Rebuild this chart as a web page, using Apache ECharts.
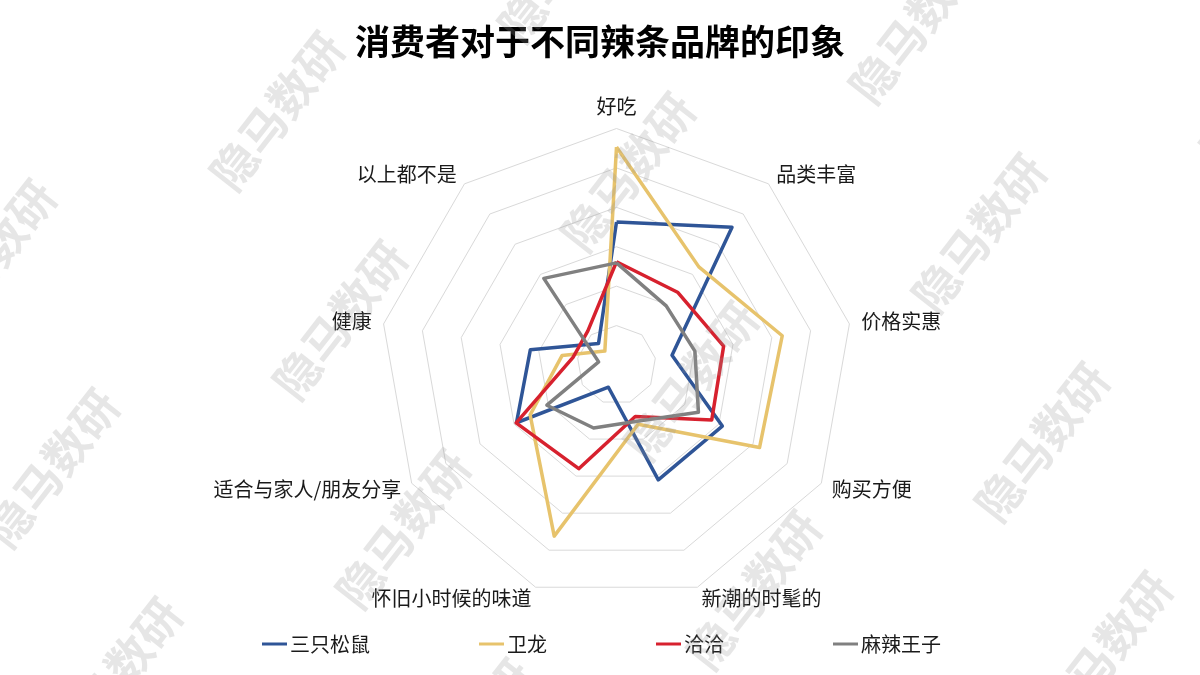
<!DOCTYPE html>
<html>
<head>
<meta charset="utf-8">
<script src="https://cdn.jsdelivr.net/npm/echarts@6/dist/echarts.min.js"></script>
<style>
html,body{margin:0;padding:0;background:#fff;}
#main{width:1200px;height:675px;}
</style>
</head>
<body>
<div id="main"></div>
<script>
// Indicators, clockwise from the top
var categories = ['好吃', '品类丰富', '价格实惠', '购买方便', '新潮的时髦的', '怀旧小时候的味道', '适合与家人/朋友分享', '健康', '以上都不是'];
var brands = ['三只松鼠', '卫龙', '洽洽', '麻辣王子'];
var songshu = [36.3, 45.6, 14.3, 31.0, 31.0, 6.0, 29.3, 22.2, 7.1];
var weilong = [55.3, 32.5, 42.7, 41.9, 16.0, 46.2, 25.3, 14.0, 4.6];
var qiaqia = [26.2, 24.1, 27.6, 27.9, 13.9, 28.0, 29.4, 11.2, 11.3];
var malawangzi = [25.9, 19.6, 20.2, 24.0, 15.2, 17.0, 20.4, 4.6, 28.7];
var axisMax = 60;

var colors = ['#2F5597', '#E7C36C', '#D7212E', '#808080'];
var FONT = '"Noto Sans CJK SC", "Microsoft YaHei", sans-serif';

// ECharts places radar indicators counter-clockwise; reorder to get clockwise layout
var order = [0];
for (var k = categories.length - 1; k >= 1; k--) order.push(k);
function reorder(arr) { return order.map(function (i) { return arr[i]; }); }

var seriesData = [songshu, weilong, qiaqia, malawangzi];

// watermark lattice
var wm = [];
var base = [277, 111], va = [351, 61], vb = [63, 209];
for (var i = -3; i <= 4; i++) {
  for (var j = -2; j <= 4; j++) {
    var cx = base[0] + i * va[0] + j * vb[0];
    var cy = base[1] + i * va[1] + j * vb[1];
    if (cx < -150 || cx > 1350 || cy < -100 || cy > 790) continue;
    wm.push({
      type: 'text', x: cx, y: cy, rotation: 52 * Math.PI / 180, z: 100, silent: true,
      style: {
        text: '隐马数研', fontSize: 46, fontWeight: 'bold', fontFamily: FONT,
        fill: 'rgba(150,150,150,0.24)', align: 'center', verticalAlign: 'middle'
      }
    });
  }
}

var chart = echarts.init(document.getElementById('main'));
chart.setOption({
  backgroundColor: '#fff',
  animation: false,
  title: {
    text: '消费者对于不同辣条品牌的印象',
    left: 'center', top: 19,
    textStyle: { fontSize: 35, fontWeight: 'bold', color: '#000', fontFamily: FONT }
  },
  legend: {
    data: brands,
    left: 257, top: 629,
    itemGap: 109, itemWidth: 25, itemHeight: 3, icon: 'rect',
    textStyle: { fontSize: 20, color: '#1a1a1a', fontFamily: FONT, padding: [0, 0, 0, -2] }
  },
  radar: {
    center: [616.5, 365],
    radius: 236.5,
    startAngle: 90,
    shape: 'polygon',
    splitNumber: 6,
    axisNameGap: 12,
    indicator: reorder(categories).map(function (c) { return { name: c, min: 0, max: axisMax }; }),
    axisName: { color: '#1a1a1a', fontSize: 20, fontFamily: FONT },
    splitLine: { lineStyle: { color: '#d9d9d9', width: 1 } },
    splitArea: { show: false },
    axisLine: { show: false },
    axisTick: { show: false },
    axisLabel: { show: false }
  },
  series: [{
    type: 'radar',
    symbol: 'none',
    data: brands.map(function (b, idx) {
      return {
        name: b,
        value: reorder(seriesData[idx]),
        lineStyle: { color: colors[idx], width: 3.5 },
        itemStyle: { color: colors[idx] }
      };
    })
  }],
  graphic: wm
});
</script>
</body>
</html>
